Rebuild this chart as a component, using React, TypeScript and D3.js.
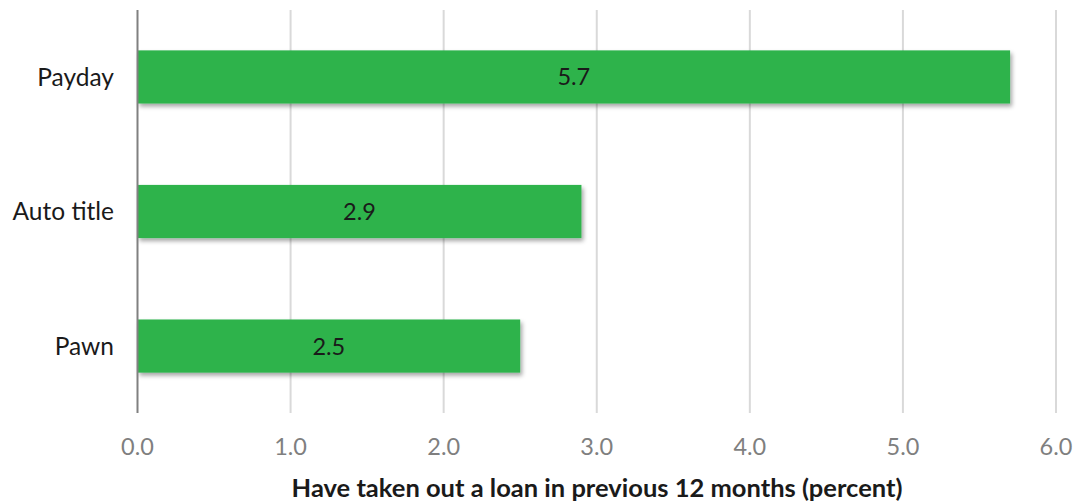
import React from "react";
import * as d3 from "d3";

const categories = ["Payday", "Auto title", "Pawn"];
const values = [5.7, 2.9, 2.5];
const tickValues = [0, 1, 2, 3, 4, 5, 6];
const axisTitle = "Have taken out a loan in previous 12 months (percent)";

const W = 1074;
const H = 501;
const FONT = "Lato, 'Open Sans', sans-serif";

export default function App() {
  const x = d3.scaleLinear().domain([0, 6]).range([137.5, 1056]);
  const y = d3.scaleBand<string>().domain(categories).range([10, 413]).paddingInner(0.605).paddingOuter(0.3);
  const bw = y.bandwidth();
  return (
    <svg width={W} height={H} style={{ position: "absolute", left: 0, top: 0, background: "#fff" }}>
      <defs>
        <filter id="shadow" x="-5%" y="-30%" width="115%" height="170%">
          <feDropShadow dx="2" dy="3" stdDeviation="2.2" floodColor="#000" floodOpacity="0.35" />
        </filter>
      </defs>
      {tickValues.filter((t) => t > 0).map((t) => (
        <line key={t} x1={x(t)} x2={x(t)} y1={10} y2={413} stroke="#d9d9d9" strokeWidth={2} />
      ))}
      {categories.map((c, i) => (
        <rect key={c} x={x(0)} y={y(c)} width={x(values[i]) - x(0)} height={bw} fill="#2eb34c" filter="url(#shadow)" />
      ))}
      <line x1={x(0)} x2={x(0)} y1={10} y2={413} stroke="#808080" strokeWidth={2} />
      {categories.map((c, i) => (
        <text key={"v" + c} x={(x(0) + x(values[i])) / 2} y={(y(c) as number) + bw / 2} dy="0.36em" textAnchor="middle" fontFamily={FONT} fontSize={23.5} fill="#1a1a1a">
          {values[i].toFixed(1)}
        </text>
      ))}
      {categories.map((c) => (
        <text key={"c" + c} x={114} y={(y(c) as number) + bw / 2} dy="0.36em" textAnchor="end" fontFamily={FONT} fontSize={24.5} fill="#1a1a1a">
          {c}
        </text>
      ))}
      {tickValues.map((t) => (
        <text key={"t" + t} x={x(t)} y={455} textAnchor="middle" fontFamily={FONT} fontSize={23.5} fill="#7f7f7f">
          {t.toFixed(1)}
        </text>
      ))}
      <text x={597} y={497} textAnchor="middle" fontFamily={FONT} fontWeight="bold" fontSize={25.5} fill="#1a1a1a">
        {axisTitle}
      </text>
    </svg>
  );
}
